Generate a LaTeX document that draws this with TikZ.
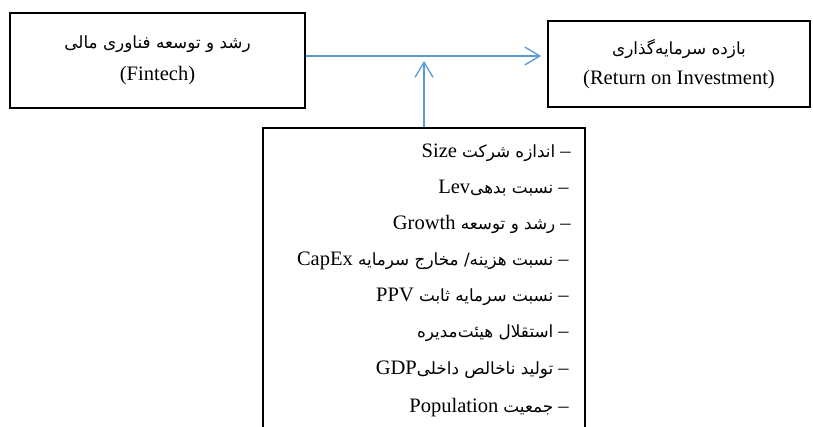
\documentclass[tikz,border=0pt]{standalone}
\usepackage{fontspec}
\setmainfont{Liberation Serif}
\newfontfamily\fafont[Script=Arabic,Scale=0.82]{DejaVu Sans}
\TeXXeTstate=1
\usepackage{tikz}
\usetikzlibrary{arrows.meta, positioning}
\usepackage{xcolor}
\definecolor{arrowblue}{RGB}{91,155,213}

\tikzset{
  varbox/.style={draw, line width=1.5pt, inner sep=0pt},
  flow/.style={draw=arrowblue, line width=1pt, -{Straight Barb[length=11.25pt, width=13.5pt, line width=1pt]}},
  item/.style={anchor=base east, inner sep=0pt, font=\fontsize{15.4pt}{24pt}\selectfont}
}
\newcommand{\fa}[1]{{\fafont #1}}

\begin{document}
\begin{tikzpicture}[x=0.75pt, y=-0.75pt]
\clip (0,0) rectangle (813,427);
% dependent, independent and control variables
\node[varbox, minimum width=221.25pt, minimum height=71.25pt, align=center, font=\fontsize{15.4pt}{24pt}\selectfont] (fin) at (157.5,60.5) {\fa{\beginR رشد و توسعه فناوری مالی\endR}\\(Fintech)};
\node[varbox, minimum width=196.5pt, minimum height=64.5pt, align=center, font=\fontsize{15.4pt}{23pt}\selectfont] (roi) at (679,64) {\fa{\beginR بازده سرمایه‌گذاری\endR}\\(Return on Investment)};
\node[varbox, minimum width=241.5pt, minimum height=240pt, anchor=north] (ctrl) at (424,127) {};

\node[item] (c1) at (571,158) {\beginR– \fa{اندازه شرکت} \beginL Size\endL\endR};
\node[item] (c2) at (569,194) {\beginR– \fa{نسبت بدهی}\beginL Lev\endL\endR};
\node[item] (c3) at (571,230) {\beginR– \fa{رشد و توسعه} \beginL Growth\endL\endR};
\node[item] (c4) at (569,266) {\beginR– \fa{نسبت هزینه/ مخارج سرمایه} \beginL CapEx\endL\endR};
\node[item] (c5) at (569,302) {\beginR– \fa{نسبت سرمایه ثابت} \beginL PPV\endL\endR};
\node[item] (c6) at (569,338) {\beginR– \fa{استقلال هیئت‌مدیره}\endR};
\node[item] (c7) at (569,374) {\beginR– \fa{تولید ناخالص داخلی}\beginL GDP\endL\endR};
\node[item] (c8) at (569,412) {\beginR– \fa{جمعیت} \beginL Population\endL\endR};

% connectors
\coordinate (join) at (424,56);
\draw[flow, shorten >=4.5pt] (fin.east |- join) -- (roi.west |- join);
\draw[flow, shorten >=3.75pt] (ctrl.north -| join) -- (join);
\end{tikzpicture}
\end{document}
